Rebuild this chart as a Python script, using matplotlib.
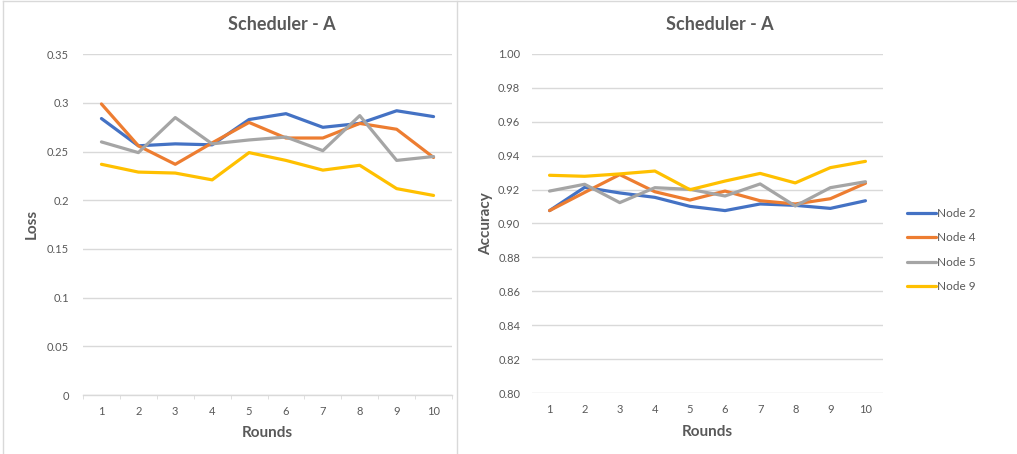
import matplotlib
matplotlib.use("Agg")
import matplotlib.pyplot as plt
from matplotlib.lines import Line2D

plt.rcParams['font.family'] = ['Lato', 'DejaVu Sans']

rounds = [1, 2, 3, 4, 5, 6, 7, 8, 9, 10]
series_names = ["Node 2", "Node 4", "Node 5", "Node 9"]
colors = ["#4472C4", "#ED7D31", "#A5A5A5", "#FFC000"]

loss_node2 = [0.284, 0.256, 0.258, 0.257, 0.283, 0.289, 0.275, 0.279, 0.292, 0.286]
loss_node4 = [0.299, 0.256, 0.237, 0.259, 0.280, 0.264, 0.264, 0.279, 0.273, 0.244]
loss_node5 = [0.260, 0.249, 0.285, 0.258, 0.262, 0.265, 0.251, 0.287, 0.241, 0.245]
loss_node9 = [0.237, 0.229, 0.228, 0.221, 0.249, 0.241, 0.231, 0.236, 0.212, 0.205]

acc_node2 = [0.9076, 0.9213, 0.9180, 0.9154, 0.9101, 0.9076, 0.9115, 0.9107, 0.9089, 0.9134]
acc_node4 = [0.9076, 0.9183, 0.9288, 0.9187, 0.9138, 0.9191, 0.9134, 0.9115, 0.9146, 0.9237]
acc_node5 = [0.9191, 0.9231, 0.9123, 0.9211, 0.9201, 0.9162, 0.9233, 0.9103, 0.9211, 0.9246]
acc_node9 = [0.9284, 0.9278, 0.9292, 0.9309, 0.9199, 0.9250, 0.9295, 0.9239, 0.9329, 0.9366]

loss_ticks = [0, 0.05, 0.1, 0.15, 0.2, 0.25, 0.3, 0.35]
loss_tick_labels = ["0", "0.05", "0.1", "0.15", "0.2", "0.25", "0.3", "0.35"]
acc_ticks = [0.80, 0.82, 0.84, 0.86, 0.88, 0.90, 0.92, 0.94, 0.96, 0.98, 1.00]
acc_tick_labels = ["%.2f" % v for v in acc_ticks]

W, H = 1017, 454
fig = plt.figure(figsize=(W / 100, H / 100), dpi=100)

TXT = "#595959"
GRID = "#D9D9D9"

def fx(px):
    return px / W

def fy(py):
    return 1 - py / H

# panel borders
fig.add_artist(Line2D([fx(3), fx(3)], [fy(1), fy(454)], color=GRID, lw=1))
fig.add_artist(Line2D([fx(457), fx(457)], [fy(1), fy(454)], color=GRID, lw=1))
fig.add_artist(Line2D([fx(3), fx(1017)], [fy(1), fy(1)], color=GRID, lw=1))

def setup(ax, ticks, labels, ylim, show_axis_line, ypad):
    ax.set_xlim(0.5, 10.5)
    ax.set_ylim(*ylim)
    ax.set_yticks(ticks)
    ax.set_yticklabels(labels)
    ax.set_xticks(rounds)
    ax.set_xticklabels([str(r) for r in rounds])
    for s in ax.spines.values():
        s.set_visible(False)
    ax.grid(axis='y', color=GRID, lw=1)
    ax.set_axisbelow(True)
    ax.tick_params(axis='both', length=0, colors=TXT, labelsize=8)
    ax.tick_params(axis='y', pad=ypad)
    ax.tick_params(axis='x', pad=8)
    if show_axis_line:
        ax.spines['bottom'].set_visible(True)
        ax.spines['bottom'].set_color(GRID)
        ax.spines['bottom'].set_linewidth(1)
        ax.set_xticks([x + 0.5 for x in range(0, 11)], minor=True)
        ax.tick_params(axis='x', which='minor', length=3, color=GRID, direction='out')

# left chart
ax1 = fig.add_axes([fx(83), fy(395), fx(452 - 83), (395 - 54.3) / H])
setup(ax1, loss_ticks, loss_tick_labels, (0, 0.35), True, 10)
for vals, c in zip([loss_node2, loss_node4, loss_node5, loss_node9], colors):
    ax1.plot(rounds, vals, color=c, lw=2.3, solid_capstyle='round', solid_joinstyle='round')

# right chart
ax2 = fig.add_axes([fx(532), fy(393.3), fx(883 - 532), (393.3 - 53.7) / H])
setup(ax2, acc_ticks, acc_tick_labels, (0.80, 1.00), False, 8.5)
lines = []
for vals, c, name in zip([acc_node2, acc_node4, acc_node5, acc_node9], colors, series_names):
    l, = ax2.plot(rounds, vals, color=c, lw=2.3, solid_capstyle='round', solid_joinstyle='round', label=name)
    lines.append(l)

leg = fig.legend(handles=lines, loc='upper left', bbox_to_anchor=(fx(902), fy(203)),
                 frameon=False, fontsize=8.5, handlelength=2.5, handletextpad=0.05,
                 labelspacing=1.15, borderaxespad=0)
for t in leg.get_texts():
    t.set_color(TXT)

# titles and axis labels
fig.text(fx(282), fy(25), "Scheduler - A", ha='center', va='center', fontsize=13, fontweight='bold', color=TXT)
fig.text(fx(720), fy(24), "Scheduler - A", ha='center', va='center', fontsize=13, fontweight='bold', color=TXT)
fig.text(fx(267), fy(433), "Rounds", ha='center', va='center', fontsize=11, fontweight='bold', color=TXT)
fig.text(fx(707), fy(432), "Rounds", ha='center', va='center', fontsize=11, fontweight='bold', color=TXT)
fig.text(fx(32), fy(224), "Loss", ha='center', va='center', fontsize=11, fontweight='bold', color=TXT, rotation=90)
fig.text(fx(486), fy(224), "Accuracy", ha='center', va='center', fontsize=11, fontweight='bold', color=TXT, rotation=90)

fig.savefig("out.png", dpi=100)
